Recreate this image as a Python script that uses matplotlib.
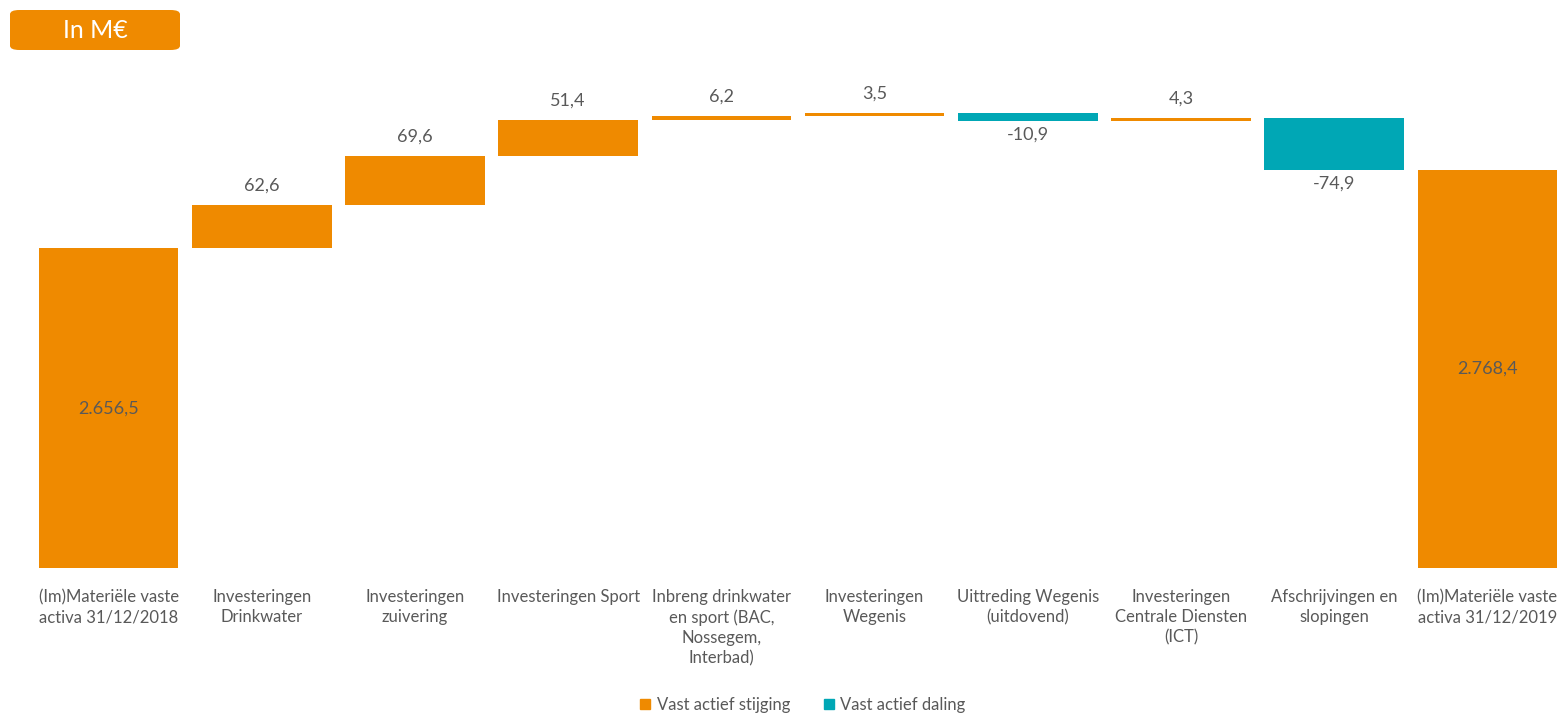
import matplotlib
matplotlib.use("Agg")
import matplotlib.pyplot as plt
from matplotlib.patches import Patch, FancyBboxPatch
import numpy as np

plt.rcParams['font.family'] = ['Lato', 'DejaVu Sans']

categories = [
    "(Im)Materiële vaste\nactiva 31/12/2018",
    "Investeringen\nDrinkwater",
    "Investeringen\nzuivering",
    "Investeringen Sport",
    "Inbreng drinkwater\nen sport (BAC,\nNossegem,\nInterbad)",
    "Investeringen\nWegenis",
    "Uittreding Wegenis\n(uitdovend)",
    "Investeringen\nCentrale Diensten\n(ICT)",
    "Afschrijvingen en\nslopingen",
    "(Im)Materiële vaste\nactiva 31/12/2019",
]
start_value = 2656.5
changes = [62.6, 69.6, 51.4, 6.2, 3.5, -10.9, 4.3, -74.9]
end_value = 2768.4
axis_floor = 2200

ORANGE = "#EF8A00"
TEAL = "#00A7B5"
GREY = "#595959"


def fmt(v):
    return f"{v:,.1f}".replace(",", "X").replace(".", ",").replace("X", ".")


fig = plt.figure(figsize=(15.65, 7.16), dpi=100)
ax = fig.add_axes([32 / 1565, (716 - 568) / 716, (1564 - 32) / 1565, 508 / 716])

n = len(categories)
x = np.arange(n)
width = 0.91
vfs = 13

ax.bar(x[0], start_value - axis_floor, bottom=axis_floor, width=width, color=ORANGE)
ax.text(x[0], (start_value + axis_floor) / 2, fmt(start_value),
        ha="center", va="center", fontsize=vfs, color=GREY)

cum = start_value
for i, c in enumerate(changes, start=1):
    new = cum + c
    col = ORANGE if c >= 0 else TEAL
    ax.bar(x[i], abs(c), bottom=min(cum, new), width=width, color=col)
    lab = fmt(c)
    if c >= 0:
        ax.annotate(lab, (x[i], max(cum, new)), xytext=(0, 14), textcoords="offset points",
                    ha="center", va="center", fontsize=vfs, color=GREY)
    else:
        ax.annotate(lab, (x[i], min(cum, new)), xytext=(0, -10), textcoords="offset points",
                    ha="center", va="center", fontsize=vfs, color=GREY)
    cum = new

ax.bar(x[-1], end_value - axis_floor, bottom=axis_floor, width=width, color=ORANGE)
ax.text(x[-1], (end_value + axis_floor) / 2, fmt(end_value),
        ha="center", va="center", fontsize=vfs, color=GREY)

ax.set_xlim(-0.5, n - 0.5)
ax.set_ylim(axis_floor, axis_floor + 508 / 0.70)
ax.set_xticks(x)
ax.set_xticklabels(categories, fontsize=12, color=GREY, linespacing=1.32)
ax.tick_params(axis="x", length=0, pad=15)
ax.set_yticks([])
for s in ax.spines.values():
    s.set_visible(False)

handles = [Patch(color=ORANGE, label="Vast actief stijging"),
           Patch(color=TEAL, label="Vast actief daling")]
fig.legend(handles=handles, loc="center", bbox_to_anchor=(803 / 1565, 1 - 705 / 716), ncol=2,
           frameon=False, fontsize=12, handlelength=0.6, handleheight=0.6, handletextpad=0.4,
           columnspacing=2.0, labelcolor=GREY)

box = FancyBboxPatch((10 / 1565, 1 - 50 / 716), 170 / 1565, 40 / 716,
                     boxstyle="round,pad=0,rounding_size=0.006", transform=fig.transFigure,
                     fc=ORANGE, ec="none", zorder=0)
fig.patches.append(box)
fig.text(95 / 1565, 1 - 30 / 716, "In M€", ha="center", va="center", fontsize=18, color="white")

fig.savefig("out.png", dpi=100)
